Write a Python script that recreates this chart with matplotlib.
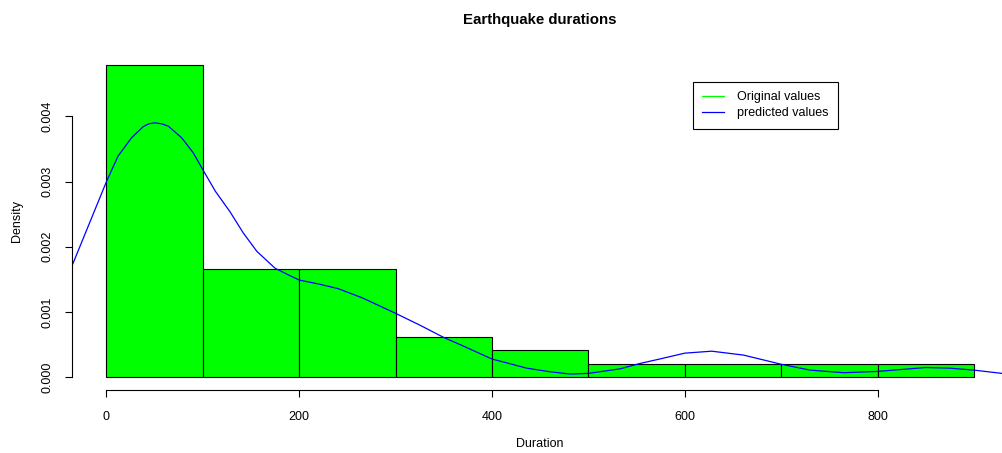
import numpy as np
import matplotlib
matplotlib.use('Agg')
import matplotlib.pyplot as plt

# histogram of durations (counts per 100-unit bin, 48 quakes)
bin_edges = [0, 100, 200, 300, 400, 500, 600, 700, 800, 900]
counts = [23, 8, 8, 3, 2, 1, 1, 1, 1]

# density curve
curve_x = [-36, 0, 12, 26, 38, 44, 50, 57, 64, 78, 90, 100, 113, 128, 142,
           156, 175, 190, 200, 220, 240, 265, 300, 325, 350, 367, 388, 400,
           436, 460, 481, 500, 533, 553, 574, 600, 628, 661, 700, 730, 765,
           800, 850, 875, 900, 929]
curve_y = [1.70, 3.00, 3.39, 3.67, 3.84, 3.885, 3.90, 3.885, 3.85, 3.67, 3.44,
           3.18, 2.85, 2.54, 2.21, 1.93, 1.67, 1.56, 1.49, 1.43, 1.36, 1.22,
           0.98, 0.80, 0.61, 0.50, 0.36, 0.28, 0.14, 0.085, 0.05, 0.06, 0.13,
           0.21, 0.28, 0.37, 0.40, 0.34, 0.20, 0.11, 0.07, 0.09, 0.15, 0.14,
           0.11, 0.06]

x_ticks = [0, 200, 400, 600, 800]
y_ticks = [0.000, 0.001, 0.002, 0.003, 0.004]

plt.rcParams['font.family'] = ['Liberation Sans', 'DejaVu Sans']
plt.rcParams['font.size'] = 9

W, H = 1002, 453
fig = plt.figure(figsize=(W / 100, H / 100), dpi=100)
fig.set_facecolor('white')

# plot region in pixels (R usr range extends 4% past the data)
left, right, top, bottom = 71.8, 1008.6, 52.1, 389.8
ax = fig.add_axes([left / W, 1 - bottom / H, (right - left) / W, (bottom - top) / H])

n = sum(counts)
widths = np.diff(bin_edges)
dens = np.array(counts) / (n * widths)
ax.bar(bin_edges[:-1], dens, width=widths, align='edge', color='#00ff00',
       edgecolor='black', linewidth=0.8)

ax.plot(curve_x, np.array(curve_y) * 1e-3, color='blue', lw=0.9)

xmin, xmax = bin_edges[0], bin_edges[-1]
ax.set_xlim(xmin - 0.04 * (xmax - xmin), xmax + 0.04 * (xmax - xmin))
ymax = dens.max()
ax.set_ylim(-0.04 * ymax, ymax * 1.04)

for s in ['top', 'right']:
    ax.spines[s].set_visible(False)
ax.spines['left'].set_bounds(0, 0.004)
ax.spines['bottom'].set_bounds(0, 800)
for s in ['left', 'bottom']:
    ax.spines[s].set_linewidth(0.8)

ax.set_xticks(x_ticks)
ax.set_yticks(y_ticks)
ax.set_yticklabels(['%.3f' % v for v in y_ticks], rotation=90, va='center')
ax.tick_params(axis='both', direction='out', length=5, width=0.8, labelsize=9)
ax.tick_params(axis='x', pad=10)
ax.tick_params(axis='y', pad=8)

fig.text(540 / W, 1 - 20 / H, 'Earthquake durations', ha='center', va='center',
         fontsize=10.8, fontweight='bold')
fig.text(540 / W, 1 - 444 / H, 'Duration', ha='center', va='center', fontsize=9)
fig.text(17 / W, 1 - 221 / H, 'Density', ha='center', va='center', fontsize=9,
         rotation=90)

h1, = ax.plot([], [], color='#00ff00', lw=0.9)
h2, = ax.plot([], [], color='blue', lw=0.9)
leg = ax.legend([h1, h2], ['Original values', 'predicted values'],
                loc='upper left', bbox_to_anchor=(693 / W, 1 - 82 / H),
                bbox_transform=fig.transFigure, borderaxespad=0,
                fancybox=False, framealpha=1, edgecolor='black',
                handlelength=1.76, handletextpad=1.0, labelspacing=0.3,
                borderpad=0.75, fontsize=9)
leg.get_frame().set_linewidth(0.8)

fig.savefig('out.png', dpi=100)
